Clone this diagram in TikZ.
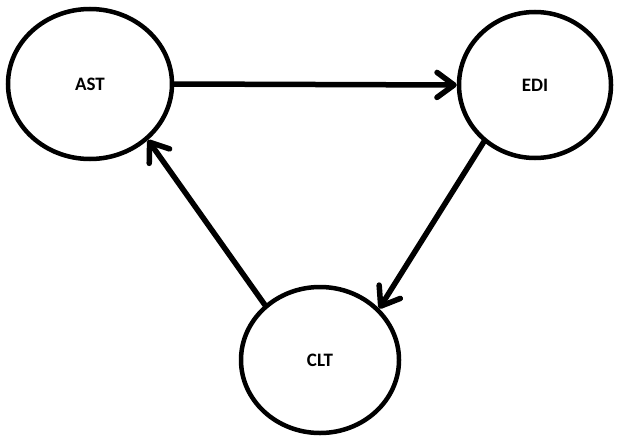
\documentclass[tikz,border=0pt]{standalone}
\usepackage{fontspec}
\setmainfont{Carlito}
\usetikzlibrary{arrows.meta,shapes.geometric}
\begin{document}
\begin{tikzpicture}[x=1pt,y=-1pt,
  state/.style={draw=black, line width=4.5pt, ellipse, inner sep=0pt, font=\fontsize{19}{21}\selectfont\bfseries},
  conn/.style={line width=5.5pt, line cap=round, -{Straight Barb[length=17pt,width=25pt,line cap=round,line join=round]}}]
\useasboundingbox (0,0) rectangle (617,436);
\node[state, minimum width=164pt, minimum height=150pt] (ast) at (90,84) {AST};
\node[state, minimum width=152pt, minimum height=146pt] (edi) at (535,85) {EDI};
\node[state, minimum width=158pt, minimum height=146pt] (clt) at (320,360) {CLT};
\draw[conn] (ast.east) -- (edi.west);
\draw[conn] (edi.-132) -- (clt.41);
\draw[conn] (clt.135) -- (ast.-44);
\end{tikzpicture}
\end{document}
